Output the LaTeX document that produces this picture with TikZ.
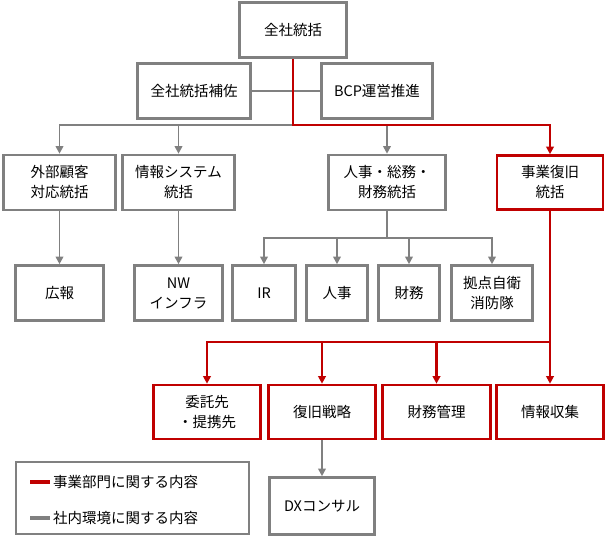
\documentclass[tikz,border=0pt]{standalone}
\usepackage{fontspec}
\setmainfont{Noto Sans CJK JP}
\usetikzlibrary{arrows.meta}
\definecolor{bizred}{HTML}{C00000}
\definecolor{envgray}{HTML}{808080}

\begin{document}
\begin{tikzpicture}[x=1pt, y=-1pt,
  every node/.style={font=\fontsize{14.5}{20}\selectfont, align=center, inner sep=0pt},
  gbox/.style={draw=envgray, line width=2.6pt, fill=white, minimum width=#1, minimum height=55pt},
  rbox/.style={draw=bizred, line width=2.6pt, fill=white, minimum width=#1, minimum height=54pt},
  gline/.style={envgray, line width=1.7pt},
  rline/.style={bizred, line width=2.2pt},
  arr/.style={-{Triangle[length=7.5pt,width=7.5pt]}}]
  \useasboundingbox (0,0) rectangle (607,540);

  % top rows
  \node[gbox=107] (top) at (293,30) {全社統括};
  \node[gbox=113] (hosa) at (194,91) {全社統括補佐};
  \node[gbox=111] (bcp) at (377,91) {BCP運営推進};

  \node[gbox=112] (gaibu) at (59.5,182.5) {外部顧客\\対応統括};
  \node[gbox=112] (joho) at (178.5,182.5) {情報システム\\統括};
  \node[gbox=117] (jinji) at (387,182.5) {人事・総務・\\財務統括};
  \node[rbox=106] (fukkyu) at (550,182.5) {事業復旧\\統括};

  % third row
  \node[gbox=88] (koho) at (59.5,293) {広報};
  \node[gbox=88] (nw) at (178.5,293) {NW\\インフラ};
  \node[gbox=63] (ir) at (264,293) {IR};
  \node[gbox=61] (hito) at (337,293) {人事};
  \node[gbox=61] (zaimu) at (409,293) {財務};
  \node[gbox=81] (kyoten) at (492,293) {拠点自衛\\消防隊};

  % red row
  \node[rbox=107] (itaku) at (207,412) {委託先\\・提携先};
  \node[rbox=107] (senryaku) at (322,412) {復旧戦略};
  \node[rbox=108] (kanri) at (436.5,412) {財務管理};
  \node[rbox=107] (shushu) at (550,412) {情報収集};

  \node[gbox=105, minimum height=57pt] (dx) at (322,506) {DXコンサル};

  % connectors
  \coordinate (hub) at (293,125);
  \coordinate (ghub) at (387,238);
  \coordinate (rhub) at (550,342);

  \draw[gline] (hosa) -- (bcp);
  \draw[gline,arr] (hub) -| (gaibu.north);
  \draw[gline,arr] (hub) -| (joho.north);
  \draw[gline,arr] (hub) -| (jinji.north);
  \draw[rline,arr] (top.south) -- (hub) -| (fukkyu.north);

  \draw[gline,arr] (gaibu) -- (koho);
  \draw[gline,arr] (joho) -- (nw);
  \draw[gline] (jinji.south) -- (ghub);
  \draw[gline,arr] (ghub) -| (ir.north);
  \draw[gline,arr] (ghub) -| (hito.north);
  \draw[gline,arr] (ghub) -| (zaimu.north);
  \draw[gline,arr] (ghub) -| (kyoten.north);

  \draw[rline] (fukkyu.south) -- (rhub);
  \draw[rline,arr] (rhub) -| (itaku.north);
  \draw[rline,arr] (rhub) -| (senryaku.north);
  \draw[rline,arr] (rhub) -| (kanri.north);
  \draw[rline,arr] (rhub) -- (shushu.north);

  \draw[gline,arr] (senryaku) -- (dx);

  % legend
  \node[draw=envgray, line width=1.8pt, minimum width=233pt, minimum height=72pt] (legend) at (132.5,498) {};
  \coordinate (ra) at (30,482);
  \coordinate (rb) at (50,482);
  \coordinate (ga) at (30,518);
  \coordinate (gb) at (50,518);
  \draw[bizred, line width=4pt] (ra) -- (rb);
  \draw[envgray, line width=4pt] (ga) -- (gb);
  \node[anchor=west] (rtext) at (53,482) {事業部門に関する内容};
  \node[anchor=west] (gtext) at (53,518) {社内環境に関する内容};
\end{tikzpicture}
\end{document}
